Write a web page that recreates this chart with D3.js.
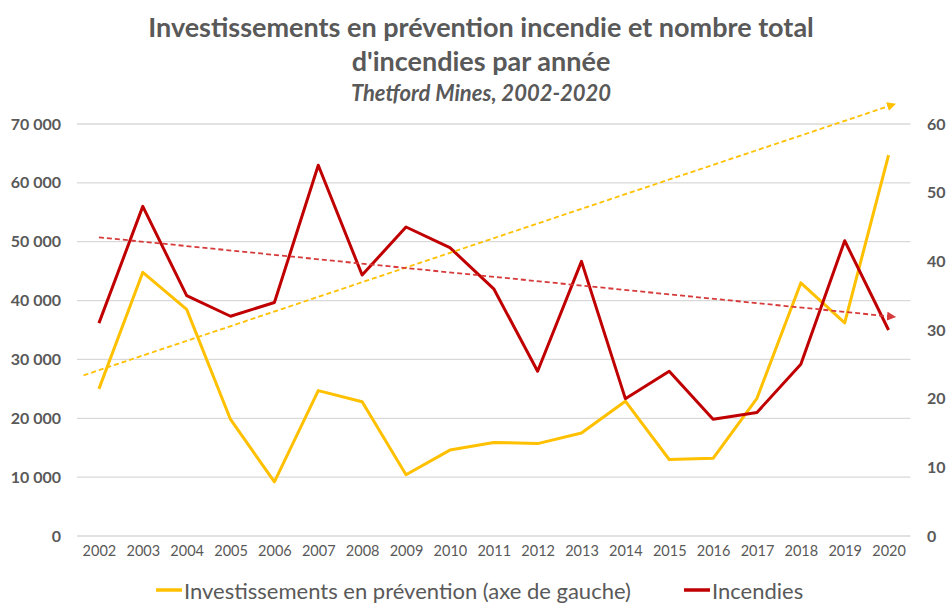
<!DOCTYPE html>
<html>
<head>
<meta charset="utf-8">
<script src="https://cdn.jsdelivr.net/npm/d3@7"></script>
<style>
  body { margin: 0; background: #fff; }
  svg { font-family: Lato, "Open Sans", sans-serif; }
</style>
</head>
<body>
<div id="chart"></div>
<script>
// years on x axis
var years = [2002, 2003, 2004, 2005, 2006, 2007, 2008, 2009, 2010, 2011,
             2012, 2013, 2014, 2015, 2016, 2017, 2018, 2019, 2020];

// investissements en prevention ($), left axis
var investissements = [25000, 44800, 38500, 19800, 9200, 24700, 22800, 10400, 14600, 15900,
                       15700, 17500, 22900, 13000, 13200, 23400, 43000, 36200, 64700];

// nombre d'incendies, right axis
var incendies = [31, 48, 35, 32, 34, 54, 38, 45, 42, 36,
                 24, 40, 20, 24, 17, 18, 25, 43, 30];

// trend arrows (start / end) drawn on the chart
var trendInvYears = [2001.65, 2020.15];
var trendInvValues = [27300, 73400];
var trendIncYears = [2002, 2020.15];
var trendIncValues = [43.5, 31.9];

var leftTicks = [0, 10000, 20000, 30000, 40000, 50000, 60000, 70000];
var rightTicks = [0, 10, 20, 30, 40, 50, 60];

var titleLines = ["Investissements en prévention incendie et nombre total", "d'incendies par année"];
var subtitle = "Thetford Mines, 2002-2020";
var legendLabels = ["Investissements en prévention (axe de gauche)", "Incendies"];

var width = 950, height = 603;
var plot = {left: 77, right: 910.5, top: 124, bottom: 536};
var gold = "#FFC000", red = "#C00000", txt = "#595959";

var svg = d3.select("#chart").append("svg")
    .attr("width", width)
    .attr("height", height);

var x = d3.scalePoint()
    .domain(years)
    .range([plot.left, plot.right])
    .padding(0.5);

// continuous version for the trend arrows
var xLin = d3.scaleLinear()
    .domain([years[0], years[years.length - 1]])
    .range([x(years[0]), x(years[years.length - 1])]);

var yLeft = d3.scaleLinear().domain([0, 70000]).range([plot.bottom, plot.top]);
var yRight = d3.scaleLinear().domain([0, 60]).range([plot.bottom, plot.top]);

var fmt = function(d) { return d3.format(",d")(d).replace(/,/g, " "); };

// gridlines
svg.append("g")
    .selectAll("line")
    .data(leftTicks)
    .enter().append("line")
      .attr("x1", plot.left)
      .attr("x2", plot.right)
      .attr("y1", function(d) { return yLeft(d); })
      .attr("y2", function(d) { return yLeft(d); })
      .attr("stroke", "#d9d9d9")
      .attr("stroke-width", 1.3);

// left axis
var gl = svg.append("g")
    .attr("transform", "translate(61,0)")
    .call(d3.axisLeft(yLeft).tickValues(leftTicks).tickFormat(fmt).tickSize(0).tickPadding(0));
gl.select(".domain").remove();
gl.selectAll("text")
    .attr("fill", txt)
    .style("font-size", "16px")
    .style("font-weight", "bold")
    .style("font-family", "Lato, sans-serif");

// right axis
var gr = svg.append("g")
    .attr("transform", "translate(927,0)")
    .call(d3.axisRight(yRight).tickValues(rightTicks).tickSize(0).tickPadding(0));
gr.select(".domain").remove();
gr.selectAll("text")
    .attr("fill", txt)
    .style("font-size", "16px")
    .style("font-weight", "bold")
    .style("font-family", "Lato, sans-serif");

// x axis
var gx = svg.append("g")
    .attr("transform", "translate(0,546)")
    .call(d3.axisBottom(x).tickSize(0).tickPadding(0).tickFormat(d3.format("d")));
gx.select(".domain").remove();
gx.selectAll("text")
    .attr("fill", txt)
    .attr("dy", "0.71em")
    .style("font-size", "14.5px")
    .style("font-family", "Lato, sans-serif");

// arrow markers
var defs = svg.append("defs");
[["arrowGold", gold], ["arrowRed", "#d63a3a"]].forEach(function(m) {
  defs.append("marker")
      .attr("id", m[0])
      .attr("viewBox", "0 0 10 10")
      .attr("refX", 9)
      .attr("refY", 5)
      .attr("markerWidth", 5)
      .attr("markerHeight", 5)
      .attr("markerUnits", "strokeWidth")
      .attr("orient", "auto")
    .append("path")
      .attr("d", "M0,0L10,5L0,10Z")
      .attr("fill", m[1]);
});

// series lines
var lineInv = d3.line()
    .x(function(d, i) { return x(years[i]); })
    .y(function(d) { return yLeft(d); });
var lineInc = d3.line()
    .x(function(d, i) { return x(years[i]); })
    .y(function(d) { return yRight(d); });

svg.append("path")
    .datum(investissements)
    .attr("d", lineInv)
    .attr("fill", "none")
    .attr("stroke", gold)
    .attr("stroke-width", 3)
    .attr("stroke-linejoin", "round");

svg.append("path")
    .datum(incendies)
    .attr("d", lineInc)
    .attr("fill", "none")
    .attr("stroke", red)
    .attr("stroke-width", 3)
    .attr("stroke-linejoin", "round");

// trend arrows (dashed)
var trendInv = d3.line()
    .x(function(d, i) { return xLin(trendInvYears[i]); })
    .y(function(d) { return yLeft(d); });
var trendInc = d3.line()
    .x(function(d, i) { return xLin(trendIncYears[i]); })
    .y(function(d) { return yRight(d); });

svg.append("path")
    .datum(trendInvValues)
    .attr("d", trendInv)
    .attr("fill", "none")
    .attr("stroke", gold)
    .attr("stroke-width", 1.8)
    .attr("stroke-dasharray", "5,3")
    .attr("marker-end", "url(#arrowGold)");

svg.append("path")
    .datum(trendIncValues)
    .attr("d", trendInc)
    .attr("fill", "none")
    .attr("stroke", "#d63a3a")
    .attr("stroke-width", 1.8)
    .attr("stroke-dasharray", "5,3")
    .attr("marker-end", "url(#arrowRed)");

// title
svg.selectAll(".title")
    .data(titleLines)
    .enter().append("text")
      .attr("class", "title")
      .attr("x", 481)
      .attr("y", function(d, i) { return 26 + i * 34; })
      .attr("text-anchor", "middle")
      .attr("dominant-baseline", "central")
      .attr("fill", txt)
      .style("font-size", "27px")
      .style("font-weight", "bold")
      .text(function(d) { return d; });

svg.append("text")
    .attr("x", 481)
    .attr("y", 92)
    .attr("text-anchor", "middle")
    .attr("dominant-baseline", "central")
    .attr("fill", txt)
    .style("font-size", "22px")
    .style("font-weight", "bold")
    .style("font-style", "italic")
    .text(subtitle);

// legend
var legendX = [156, 684];
var legendColors = [gold, red];
var leg = svg.selectAll(".legend")
    .data(legendLabels)
    .enter().append("g")
      .attr("class", "legend")
      .attr("transform", function(d, i) { return "translate(" + legendX[i] + ",590)"; });

leg.append("line")
    .attr("x1", 0)
    .attr("x2", 26)
    .attr("stroke", function(d, i) { return legendColors[i]; })
    .attr("stroke-width", 3.5);

leg.append("text")
    .attr("x", 28)
    .attr("dominant-baseline", "central")
    .attr("fill", txt)
    .style("font-size", "22px")
    .text(function(d) { return d; });
</script>
</body>
</html>
